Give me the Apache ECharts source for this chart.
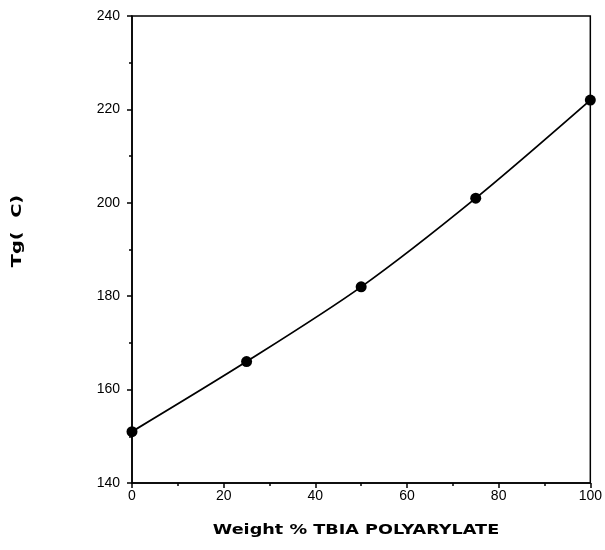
<!DOCTYPE html>
<html>
<head>
<meta charset="utf-8">
<script src="https://cdn.jsdelivr.net/npm/echarts@6/dist/echarts.min.js"></script>
<style>html,body{margin:0;padding:0;background:#fff}#c{width:605px;height:550px}</style>
</head>
<body>
<div id="c"></div>
<script>
var weightPct = [0, 25, 50, 75, 100];
var tgValues = [151, 166, 182, 201, 222];
var xTitle = 'Weight % TBIA POLYARYLATE';
var yTitle = 'Tg(  C)';

var chart = echarts.init(document.getElementById('c'));
var pts = weightPct.map(function (x, i) { return [x, tgValues[i]]; });
chart.setOption({
  animation: false,
  backgroundColor: '#fff',
  grid: { left: 132, right: 12, top: 16, bottom: 67, show: true, borderColor: '#000', borderWidth: 1.5, backgroundColor: 'transparent' },
  graphic: [
    { type: 'text', x: 356, y: 530, scaleX: 1.26, style: { text: xTitle, fontFamily: 'DejaVu Sans', fontWeight: 'bold', fontSize: 14, fill: '#000', align: 'center', verticalAlign: 'middle' } },
    { type: 'text', x: 17, y: 231, rotation: Math.PI / 2, scaleX: 1.38, style: { text: yTitle, fontFamily: 'DejaVu Sans', fontWeight: 'bold', fontSize: 14, fill: '#000', align: 'center', verticalAlign: 'middle' } }
  ],
  xAxis: {
    type: 'value', min: 0, max: 100, interval: 20,
    axisLine: { lineStyle: { color: '#000', width: 1.5 } },
    axisTick: { show: true, inside: false, length: 5, lineStyle: { color: '#000', width: 1.5 } },
    minorTick: { show: true, splitNumber: 2, length: 3, lineStyle: { color: '#000', width: 1.5 } },
    splitLine: { show: false },
    axisLabel: { margin: 6, fontFamily: 'Liberation Sans', fontSize: 14, color: '#000' }
  },
  yAxis: {
    type: 'value', min: 140, max: 240, interval: 20,
    axisLine: { lineStyle: { color: '#000', width: 1.5 } },
    axisTick: { show: true, inside: false, length: 5, lineStyle: { color: '#000', width: 1.5 } },
    minorTick: { show: true, splitNumber: 2, length: 3, lineStyle: { color: '#000', width: 1.5 } },
    splitLine: { show: false },
    axisLabel: { margin: 12, fontFamily: 'Liberation Sans', fontSize: 14, color: '#000' }
  },
  series: [{
    type: 'line', data: pts, smooth: 0.3,
    symbol: 'circle', symbolSize: 11,
    itemStyle: { color: '#000' },
    lineStyle: { color: '#000', width: 1.8 }
  }]
});
</script>
</body>
</html>
